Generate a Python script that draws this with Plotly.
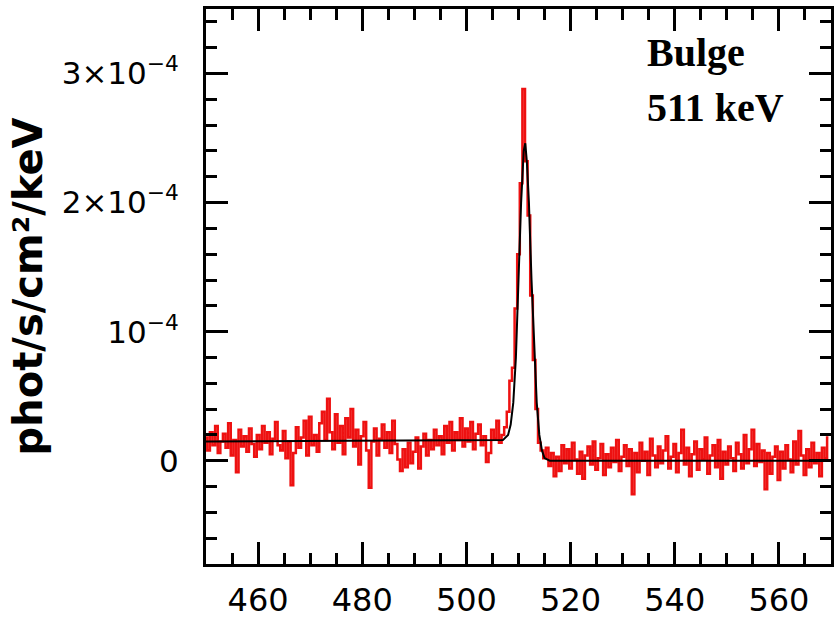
import numpy as np
import plotly.graph_objects as go

# Energy grid (keV), 0.5 keV bins
energy = np.arange(450.0, 570.0, 0.5)

# Measured spectrum, units of 1e-6 phot/s/cm2/keV
flux_left = [
    18, 8, 22, 12, 27, 6, 15, 21, 10, 29,
    4, 16, -9, 24, 11, 19, 7, 25, 13, 3,
    20, 9, 27, 14, 22, 5, 17, 30, 12, 8,
    23, 2, 15, -19, 6, 26, 10, 18, 31, 4,
    34, 12, 20, 7, 29, 38, 16, 48, 22, 9,
    36, 14, 27, 5, 33, 18, 40, 11, 24, -3,
    19, 30, 8, -21, 15, 25, 4, 17, 28, 10,
    22, 6, 31, 13, 1, -8, 9, -5, 14, -2,
    7, 18, -6, 11, 21, 4, 16, 9, 24, 12,
    19, 5, 27, 14, 30, 8, 22, 16, 33, 11,
    25, 15, 30, 9, 21, 28, 12, 19, -1, 6,
    24, 17, 31, 14,
]
flux_peak = [20, 26, 38, 62, 72, 118, 160, 215, 288, 232, 190, 128, 78, 40, 14]
flux_right = [
    8, 2, 10, -4, 6, -12, 3, -8, 12, -2, 9,
    -6, 14, 1, -10, 7, -14, 4, 11, -3, 15,
    -7, 2, 13, -11, 5, -5, 10, -1, 16, -8,
    3, 12, -4, 9, -26, 6, -9, 14, 0, 7,
    -11, 17, 4, -5, 11, -2, 8, 19, -6, 3,
    13, -9, 6, 24, -3, 10, -12, 5, 15, -7,
    9, 1, 18, -10, 4, 12, -5, 16, -14, 7,
    -3, 11, 2, -8, 14, 5, -6, 20, -2, 9,
    24, -4, 13, -1, 8, -22, 6, -10, 3, 11,
    -15, 7, -6, 12, 1, -9, 15, -3, 23, 4,
    -11, 9, -5, 14, -2, 6, -12, 10, 2, 18,
]
flux = np.array(flux_left + flux_peak + flux_right) * 1e-6

# Model curve, units of 1e-6
model_e = [450, 505, 507, 508, 508.5, 509, 509.5, 510, 510.5, 511, 511.3, 511.6,
           512, 512.5, 513, 513.5, 514, 514.5, 515, 516, 570]
model_f = [15, 15.5, 16, 20, 28, 45, 80, 140, 200, 240, 246, 232,
           200, 140, 85, 45, 20, 8, 2, 0, 0]
model_flux = np.array(model_f) * 1e-6

y_tickvals = [0, 1e-4, 2e-4, 3e-4]
y_ticktext = ["0", "10<sup>−4</sup>", "2×10<sup>−4</sup>", "3×10<sup>−4</sup>"]
x_tickvals = [460, 480, 500, 520, 540, 560]

fig = go.Figure()
fig.add_trace(go.Scatter(x=energy, y=flux, mode="lines", line_shape="hvh",
                         line=dict(color="#ee1111", width=2.5), showlegend=False))
fig.add_trace(go.Scatter(x=model_e, y=model_flux, mode="lines",
                         line=dict(color="black", width=2), showlegend=False))

axis_common = dict(showline=True, linewidth=3, linecolor="black", mirror="ticks",
                   ticks="inside", ticklen=22, tickwidth=3, tickcolor="black",
                   showgrid=False, zeroline=False)

fig.update_xaxes(range=[450, 570], tickvals=x_tickvals, ticklabelstandoff=6,
                 tickfont=dict(family="DejaVu Sans", size=32, color="black"),
                 minor=dict(dtick=5, tick0=450, ticks="inside", ticklen=11, tickwidth=3,
                            tickcolor="black", showgrid=False),
                 **axis_common)
fig.update_yaxes(range=[-0.8e-4, 3.5e-4], tickvals=y_tickvals, ticktext=y_ticktext,
                 ticklabelstandoff=18,
                 tickfont=dict(family="DejaVu Sans", size=31, color="black"),
                 minor=dict(dtick=0.2e-4, tick0=0, ticks="inside", ticklen=11, tickwidth=3,
                            tickcolor="black", showgrid=False),
                 **axis_common)

fig.add_annotation(text="<b>phot/s/cm²/keV</b>", xref="paper", yref="paper",
                   x=-0.285, y=0.5, xanchor="center", yanchor="middle",
                   textangle=-90, showarrow=False,
                   font=dict(family="DejaVu Sans", size=40, color="black"))
fig.add_annotation(text="<b>Bulge</b>", xref="paper", yref="paper", x=0.703, y=0.922,
                   xanchor="left", yanchor="middle", showarrow=False,
                   font=dict(family="Liberation Serif", size=40, color="black"))
fig.add_annotation(text="<b>511 keV</b>", xref="paper", yref="paper", x=0.703, y=0.822,
                   xanchor="left", yanchor="middle", showarrow=False,
                   font=dict(family="Liberation Serif", size=40, color="black"))

fig.update_layout(width=837, height=622, margin=dict(l=206, r=3, t=9, b=57),
                  plot_bgcolor="white", paper_bgcolor="white")

fig.write_html("out.html", config={"displayModeBar": False},
               post_script="document.body.style.margin='0px';"
                           "document.body.style.overflow='hidden';")
